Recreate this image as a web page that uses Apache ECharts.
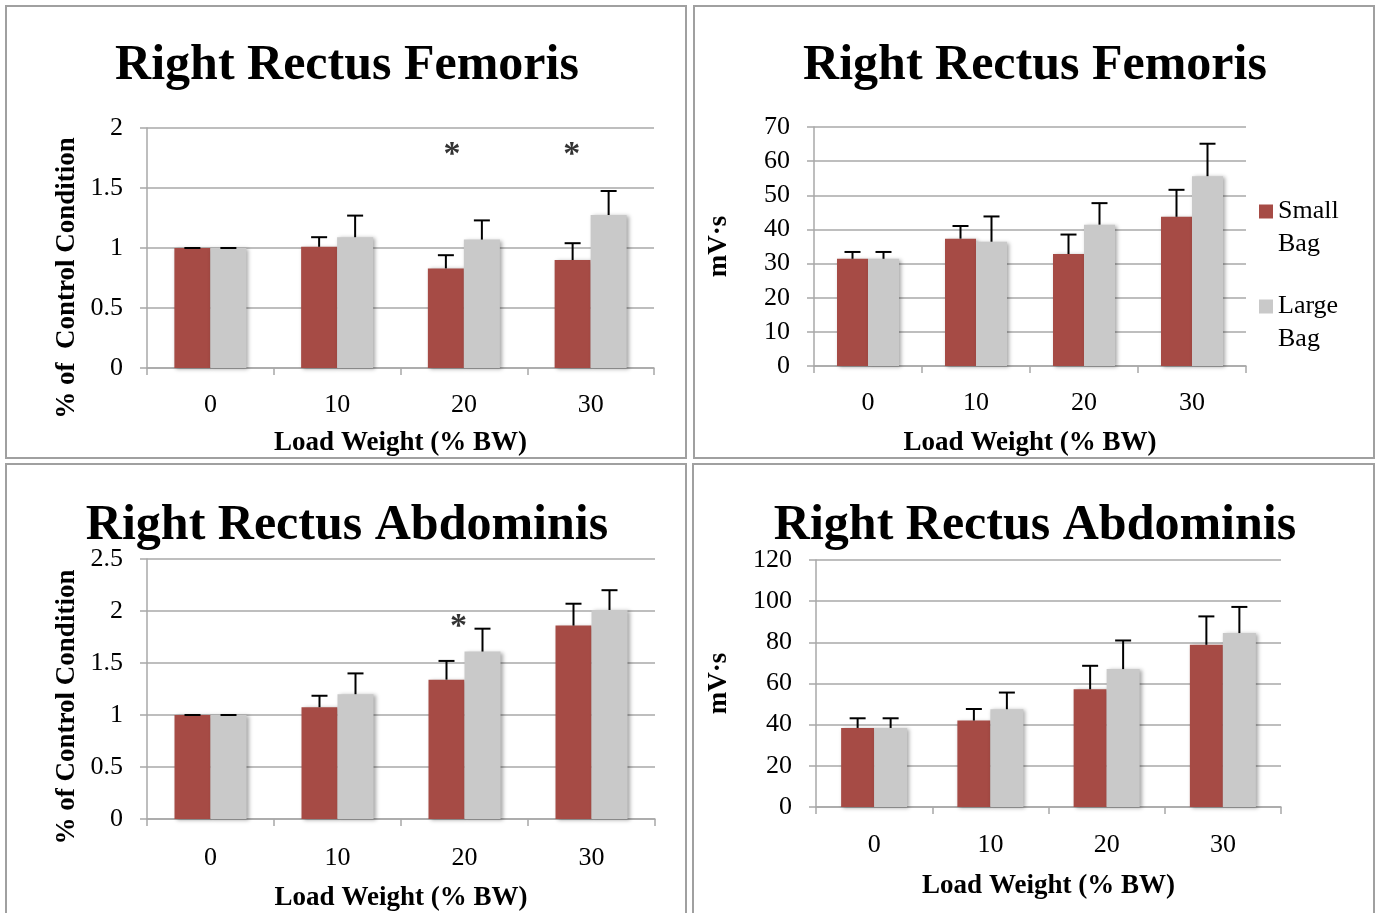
<!DOCTYPE html>
<html>
<head>
<meta charset="utf-8">
<script src="https://cdn.jsdelivr.net/npm/echarts@6/dist/echarts.min.js"></script>
<style>
html,body{margin:0;padding:0;background:#fff;}
#chart{width:1377px;height:913px;}
</style>
</head>
<body>
<div id="chart"></div>
<script>
// ---- data ----
var categories = ['0', '10', '20', '30'];
var seriesNames = ['Small Bag', 'Large Bag'];
var titles = ['Right Rectus Femoris', 'Right Rectus Femoris', 'Right Rectus Abdominis', 'Right Rectus Abdominis'];
var yTitles = ['% of  Control Condition', 'mV\u00b7s', '% of Control Condition', 'mV\u00b7s'];
var xTitle = 'Load Weight (% BW)';

var rfPctSmall = [1.0, 1.01, 0.83, 0.90];
var rfPctSmallErr = [0, 0.08, 0.11, 0.14];
var rfPctLarge = [1.0, 1.09, 1.07, 1.275];
var rfPctLargeErr = [0, 0.18, 0.16, 0.20];

var rfMvsSmall = [31.4, 37.3, 32.8, 43.7];
var rfMvsSmallErr = [2.0, 3.7, 5.7, 7.9];
var rfMvsLarge = [31.4, 36.4, 41.4, 55.6];
var rfMvsLargeErr = [2.0, 7.4, 6.3, 9.5];

var raPctSmall = [1.0, 1.075, 1.34, 1.86];
var raPctSmallErr = [0, 0.11, 0.18, 0.21];
var raPctLarge = [1.0, 1.20, 1.61, 2.01];
var raPctLargeErr = [0, 0.20, 0.22, 0.19];

var raMvsSmall = [38.4, 42.0, 57.2, 78.8];
var raMvsSmallErr = [4.7, 5.6, 11.4, 13.8];
var raMvsLarge = [38.4, 47.5, 67.0, 84.5];
var raMvsLargeErr = [4.7, 8.1, 13.9, 12.7];

var yMax = [2, 70, 2.5, 120];
var yInterval = [0.5, 10, 0.5, 20];

// significance markers: [category index, value]
var rfPctStars = [[2, 1.82], [3, 1.82]];
var raPctStars = [[2, 1.90]];

// ---- layout / style ----
var RED = '#A64B45', GRAY = '#C9C9C9', LINE = '#A8A8A8';
var FONT = 'Liberation Serif';
var grids = [
  {left: 147, top: 128, width: 507, height: 240},
  {left: 814, top: 127, width: 432, height: 239},
  {left: 147, top: 559, width: 508, height: 261},
  {left: 816, top: 560, width: 465, height: 247}
];
var barW = [36, 31, 36, 33];
var yNameGap = [66, 81, 66, 83];
var yNamePad = [[0, 60, 0, 0], [0, 0, 0, 0], [0, 36, 0, 0], [0, 0, 0, 0]];
var xNameGap = [62, 64, 66, 66];
var xLabelMargin = [24, 24, 26, 25];
var titleX = [342, 1030, 342, 1030];
var titleY = [36, 36, 496, 496];
var starOffsets = [[[-12, 6], [-19, 6]], [], [[-6, 6]], []];

var panels = [
  [rfPctSmall, rfPctSmallErr, rfPctLarge, rfPctLargeErr, rfPctStars],
  [rfMvsSmall, rfMvsSmallErr, rfMvsLarge, rfMvsLargeErr, []],
  [raPctSmall, raPctSmallErr, raPctLarge, raPctLargeErr, raPctStars],
  [raMvsSmall, raMvsSmallErr, raMvsLarge, raMvsLargeErr, []]
];

function errSeries(idx, vals, errs, offset) {
  return {
    type: 'custom', xAxisIndex: idx, yAxisIndex: idx, z: 5, silent: true,
    data: vals.map(function (v, i) { return [i, v, errs[i]]; }),
    encode: {x: 0, y: 1},
    renderItem: function (params, api) {
      var c = api.value(0), v = api.value(1), e = api.value(2);
      var p0 = api.coord([c, v]);
      var p1 = api.coord([c, v + e]);
      var x = p0[0] + offset;
      var st = {stroke: '#000', lineWidth: 2};
      return {type: 'group', children: [
        {type: 'line', shape: {x1: x, y1: p0[1], x2: x, y2: p1[1]}, style: st},
        {type: 'line', shape: {x1: x - 8, y1: p1[1], x2: x + 8, y2: p1[1]}, style: st}
      ]};
    }
  };
}

function legendFor(name, top) {
  return {data: [name], left: 1254, top: top, orient: 'vertical', itemWidth: 14, itemHeight: 14,
    icon: 'rect',
    formatter: function (n) { return ' \n' + n.replace(' ', '\n'); },
    textStyle: {fontFamily: FONT, fontSize: 26, color: '#000', lineHeight: 33}};
}

var option = {
  animation: false,
  backgroundColor: '#fff',
  title: titles.map(function (t, i) {
    return {text: t, left: titleX[i], top: titleY[i], textAlign: 'center',
      textStyle: {fontFamily: FONT, fontWeight: 'bold', fontSize: 50, color: '#000'}};
  }),
  legend: [legendFor(seriesNames[0], 157), legendFor(seriesNames[1], 252)],
  grid: grids,
  xAxis: grids.map(function (g, i) {
    return {type: 'category', gridIndex: i, data: categories,
      name: xTitle, nameLocation: 'middle', nameGap: xNameGap[i],
      nameTextStyle: {fontFamily: FONT, fontWeight: 'bold', fontSize: 27, color: '#000'},
      axisLine: {lineStyle: {color: LINE, width: 1.5}},
      axisTick: {show: true, length: 7, lineStyle: {color: LINE, width: 1.5}},
      axisLabel: {fontFamily: FONT, fontSize: 26, color: '#000', margin: xLabelMargin[i]}};
  }),
  yAxis: grids.map(function (g, i) {
    return {type: 'value', gridIndex: i, min: 0, max: yMax[i], interval: yInterval[i],
      name: yTitles[i], nameLocation: 'middle', nameGap: yNameGap[i], nameRotate: 90,
      nameTextStyle: {fontFamily: FONT, fontWeight: 'bold', fontSize: 27, color: '#000', padding: yNamePad[i]},
      axisLine: {show: true, lineStyle: {color: LINE, width: 1.5}},
      axisTick: {show: true, length: 7, lineStyle: {color: LINE, width: 1.5}},
      splitLine: {show: true, lineStyle: {color: LINE, width: 1.5}},
      axisLabel: {fontFamily: FONT, fontSize: 26, color: '#000', margin: 24, padding: [4, 0, 0, 0]}};
  }),
  graphic: [
    {type: 'rect', shape: {x: 6, y: 6, width: 680, height: 452}, style: {fill: 'none', stroke: '#A0A0A0', lineWidth: 2}},
    {type: 'rect', shape: {x: 694, y: 6, width: 680, height: 452}, style: {fill: 'none', stroke: '#A0A0A0', lineWidth: 2}},
    {type: 'rect', shape: {x: 6, y: 464, width: 680, height: 470}, style: {fill: 'none', stroke: '#A0A0A0', lineWidth: 2}},
    {type: 'rect', shape: {x: 693, y: 464, width: 681, height: 470}, style: {fill: 'none', stroke: '#A0A0A0', lineWidth: 2}}
  ],
  series: []
};

panels.forEach(function (p, i) {
  var shadow = {shadowBlur: 4, shadowColor: 'rgba(0,0,0,0.35)', shadowOffsetX: 2, shadowOffsetY: 1};
  option.series.push({type: 'bar', name: seriesNames[0], xAxisIndex: i, yAxisIndex: i, data: p[0],
    barWidth: barW[i], barGap: '0%', itemStyle: Object.assign({color: RED}, shadow)});
  option.series.push({type: 'bar', name: seriesNames[1], xAxisIndex: i, yAxisIndex: i, data: p[2],
    barWidth: barW[i], barGap: '0%', itemStyle: Object.assign({color: GRAY}, shadow)});
  option.series.push(errSeries(i, p[0], p[1], -barW[i] / 2));
  option.series.push(errSeries(i, p[2], p[3], barW[i] / 2));
  if (p[4].length) {
    option.series.push({type: 'scatter', xAxisIndex: i, yAxisIndex: i, symbolSize: 0, silent: true,
      data: p[4].map(function (d, k) {
        return {value: d, label: {offset: starOffsets[i][k]}};
      }),
      label: {show: true, formatter: '*', position: 'inside',
        fontFamily: FONT, fontWeight: 'bold', fontSize: 34, color: '#000'}});
  }
});

var chart = echarts.init(document.getElementById('chart'), null, {renderer: 'canvas'});
chart.setOption(option);
</script>
</body>
</html>
